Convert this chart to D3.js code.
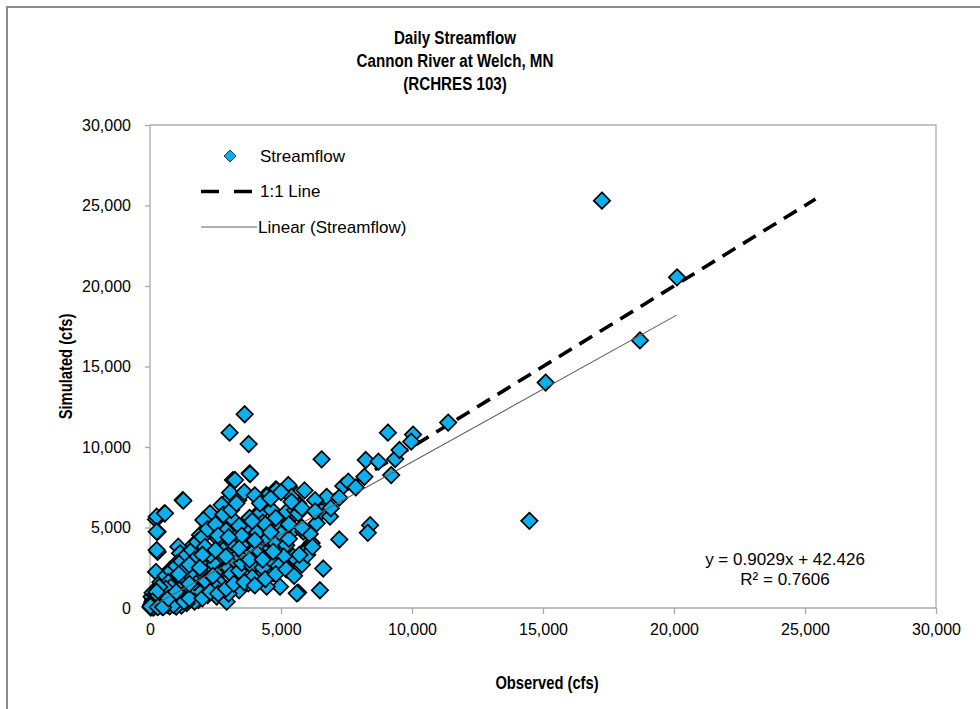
<!DOCTYPE html>
<html><head><meta charset="utf-8">
<script src="https://cdn.jsdelivr.net/npm/d3@7"></script>
<style>
html,body{margin:0;padding:0;background:#fff;}
svg{display:block;}
.bold{font-family:"Liberation Sans",Arial,sans-serif;font-weight:bold;}
.reg{font-family:"Liberation Sans",Arial,sans-serif;}
</style></head>
<body>
<svg id="chart" width="980" height="709"></svg>
<script>
const titleLines = ["Daily Streamflow", "Cannon River at Welch, MN", "(RCHRES 103)"];
const xTicks = [0, 5000, 10000, 15000, 20000, 25000, 30000];
const yTicks = [0, 5000, 10000, 15000, 20000, 25000, 30000];
const seriesNames = ["Streamflow", "1:1 Line", "Linear (Streamflow)"];
const slope = 0.9029, intercept = 42.426, r2 = 0.7606;
const oneToOne = [0, 25400];
const trendRange = [0, 20100];

// Observed (cfs)
const observed = [
 17250, 20115, 18700, 15100, 14480, 11380, 10040, 9970, 9080,
 3613, 3038, 3766, 3804, 3165, 6551, 8236, 8720, 9359, 9524, 8183, 9206, 7379, 7570, 7853,
 6486, 6742, 7225, 8401, 8313, 7225, 6613, 6486, 5655, 1249, 548, 230, 291, 291, 230,
 5310, 4800, 4444, 3038, 5655, 5528, 4122, 4888, 6168, 5846, 5463,
 1272, 255, 573, 255, 255, 1081, 3245, 3817, 3054, 3371, 2736, 2290, 2036, 2736, 3181,
 3054, 2608, 1909, 1653, 2099, 1527, 1145, 1018, 763, 1272, 1653, 2354, 2799, 3435, 3690,
 4008, 4199, 4453, 4835, 5280, 4644, 5216, 5535, 4962, 5407, 4580, 4072, 3435, 3817, 3308,
 2863, 4453, 4962, 5470, 5280, 4707, 4199, 4962, 4453, 3752, 3371, 2863, 2416, 2099, 1653,
 1844, 2546, 2927, 1145, 1018, 763, 1527, 2099, 2481, 5599,
 6551, 6871, 6360, 5850, 5655, 5599, 5980,
 50, 100, 150, 200, 250, 300, 80, 120, 180, 350, 400, 450, 500, 550, 600, 650, 700, 750, 800,
 850, 900, 950, 1000, 60, 100, 200, 300, 400, 500, 600, 700, 800, 900, 1000, 1100, 1200, 1300,
 1400, 1500, 1200, 30, 120, 250, 350, 450, 550, 650, 750, 850, 1100, 1300, 1600, 1800, 1700,
 1900, 2100, 2300, 2500, 2600, 2200, 2000, 1900, 2400, 2700, 2800, 3000, 3200, 3100, 3400,
 3500, 3300, 3600, 3800, 4000, 3900, 4200, 4400, 4600, 4300, 3700, 3500, 3000, 2800, 2600,
 2400, 2300, 2700, 3100, 3300, 2900, 3600, 4100, 4500, 4800, 5000, 5200, 5100, 4700, 4900,
 4300, 3900, 3400, 3000, 2500, 2200, 1700, 1400, 1200, 1000,
 6900, 6300, 5900, 5400, 6100, 4300, 3800, 2600, 1900, 1500, 650, 380, 150,
 400, 600, 800, 1000, 1200, 1400, 1600, 1800, 2000, 2200, 2500, 2800, 3100, 3300, 3600, 4000,
 4200, 4600, 5000, 5400, 5800, 4800, 4400, 3900, 3400, 2600, 2100, 1700, 1300, 900, 700, 500,
 300, 200, 150, 450, 650, 900, 1300, 1500, 2000, 2300, 2600, 2900, 3200, 3600, 4000, 4400,
 4800, 5200, 5500, 5800, 6000, 6200, 5700, 5300, 4600, 4000, 3500, 3000, 2500, 2000, 1500,
 1100, 800, 600, 350, 250, 100, 50, 20, 300, 500, 700, 1000, 1500, 1900, 2400, 2900, 3400,
 3800, 4300, 4700, 5300, 5800, 6300
];
// Simulated (cfs)
const simulated = [
 25300, 20540, 16620, 14000, 5415, 11515, 10770, 10330, 10890,
 12035, 10890, 10187, 8364, 7947, 9235, 9191, 9086, 9254, 9814, 8152, 8258, 7577, 7845, 7492,
 6285, 6907, 6851, 5146, 4667, 4256, 2452, 1101, 958, 6702, 5874, 5501, 4730, 3485, 2240,
 7534, 7368, 7013, 6807, 6497, 5874, 5874, 5663, 4045, 3485, 3074,
 6664, 5670, 5880, 4740, 3600, 3807, 7950, 8323, 7161, 6708, 6397, 5880, 5465, 5465, 5465,
 4638, 4328, 4534, 3913, 3397, 3186, 3397, 2776, 2360, 2360, 2565, 3087, 3497, 4428, 4845,
 5050, 5880, 6913, 7329, 7640, 6087, 5981, 6087, 4950, 4740, 4223, 3807, 3497, 2776, 2360,
 2565, 2981, 3397, 3186, 2360, 2155, 1944, 1323, 1323, 1534, 1845, 1224, 1739, 1429, 1323,
 497, 702, 391, 913, 1534, 391, 1944, 2360, 2360, 913,
 5998, 5680, 5260, 4740, 5880, 6500, 3600,
 80, 150, 60, 250, 120, 350, 300, 500, 420, 200, 500, 300, 650, 420, 800, 550, 300, 900, 650,
 450, 1000, 750, 500, 700, 950, 800, 1100, 900, 1200, 1400, 1150, 1500, 1300, 1700, 1100, 900, 1500,
 1800, 1200, 2000, 30, 20, 600, 700, 1050, 150, 1100, 100, 1150, 300, 600, 800, 1100, 1600,
 1900, 1700, 2100, 1900, 2400, 2600, 2900, 2300, 1200, 1500, 2700, 2500, 3000, 2100, 2300,
 2800, 3400, 3300, 3600, 3200, 2600, 3500, 3900, 3700, 4400, 4100, 3900, 3700, 3300, 3000,
 2800, 3300, 3800, 4100, 4600, 4800, 4900, 4700, 4300, 4000, 4600, 3900, 3200, 2800, 2600,
 2500, 1900, 1100, 900, 1300, 800, 400, 300, 150, 80,
 6200, 6700, 7300, 6900, 4600, 5300, 5600, 4300, 2800, 2100, 1600, 900, 250,
 1600, 2000, 2300, 2600, 2900, 3300, 3600, 4100, 4400, 4900, 5200, 5800, 6100, 6500, 7200, 7000,
 6500, 6800, 7200, 6600, 6200, 5600, 5200, 5400, 5100, 4500, 3800, 3000, 2400, 1800, 1600, 1000,
 800, 500, 300, 100, 200, 200, 400, 600, 600, 1000, 900, 1200, 1500, 1600, 1400, 1800,
 2100, 2400, 2000, 2700, 3300, 3800, 3300, 4300, 4700, 4200, 4500, 4400, 3600, 3300, 2700,
 2100, 1300, 1200, 1300, 1000, 400, 200, 100, 50, 50, 600, 1000, 1500, 2500, 2000, 3200, 3700,
 3000, 3000, 3500, 5200, 5000, 6000
];

const svg = d3.select("#chart");
const L = 150, R = 936, T = 125, B = 608;
const x = d3.scaleLinear().domain([0, 30000]).range([L, R]);
const y = d3.scaleLinear().domain([0, 30000]).range([B, T]);
const fmt = d3.format(",");
const NARROW = 0.82;

// outer chart frame
svg.append("rect").attr("x", 7).attr("y", 7).attr("width", 1100).attr("height", 1100)
  .attr("fill", "none").attr("stroke", "#8c8c8c").attr("stroke-width", 2);

// title (condensed bold)
const title = svg.append("g").attr("transform", `translate(455,0) scale(${NARROW},1)`)
  .append("text").attr("class", "bold").attr("text-anchor", "middle")
  .attr("font-size", 18.5).attr("fill", "#000");
titleLines.forEach((t, i) => {
  title.append("tspan").attr("x", 0).attr("y", 44 + i * 23).text(t);
});

// plot area border (top & right)
svg.append("path").attr("d", `M${L},${T}H${R}V${B}`).attr("fill", "none")
  .attr("stroke", "#b0b0b0").attr("stroke-width", 1.3);

// axes
const xAxis = d3.axisBottom(x).tickValues(xTicks).tickFormat(fmt).tickSize(6).tickPadding(10);
const yAxis = d3.axisLeft(y).tickValues(yTicks).tickFormat(fmt).tickSize(5).tickPadding(14);
const gx = svg.append("g").attr("transform", `translate(0,${B})`).call(xAxis);
const gy = svg.append("g").attr("transform", `translate(${L},0)`).call(yAxis);
[gx, gy].forEach(g => {
  g.select(".domain").attr("stroke", "#a8a8a8").attr("stroke-width", 1.3);
  g.selectAll(".tick line").attr("stroke", "#a8a8a8").attr("stroke-width", 1.3);
  g.selectAll(".tick text").attr("class", "reg").attr("font-size", 16).attr("fill", "#000");
});
gy.select(".domain").attr("d", `M0,${B}V${T}`);
gx.select(".domain").attr("d", `M${L},0H${R}`);

// 1:1 line
svg.append("line")
  .attr("x1", x(oneToOne[0])).attr("y1", y(oneToOne[0]))
  .attr("x2", x(oneToOne[1])).attr("y2", y(oneToOne[1]))
  .attr("stroke", "#000").attr("stroke-width", 3.6).attr("stroke-dasharray", "15,9");

// points
const diamond = r => `M0,${-r}L${r},0L0,${r}L${-r},0Z`;
const pts = observed.map((o, i) => [o, simulated[i]]);
svg.append("g").selectAll("path").data(pts).join("path")
  .attr("d", diamond(8.2))
  .attr("transform", d => `translate(${x(d[0])},${y(d[1])})`)
  .attr("fill", "#0cb0ec").attr("stroke", "#000").attr("stroke-width", 1.7)
  .attr("stroke-linejoin", "miter");

// trendline
svg.append("line")
  .attr("x1", x(trendRange[0])).attr("y1", y(slope * trendRange[0] + intercept))
  .attr("x2", x(trendRange[1])).attr("y2", y(slope * trendRange[1] + intercept))
  .attr("stroke", "#606060").attr("stroke-width", 1.1);

// legend
const lg = svg.append("g");
lg.append("path").attr("d", diamond(6)).attr("transform", "translate(230,156)")
  .attr("fill", "#0cb0ec").attr("stroke", "#1a3a4a").attr("stroke-width", 1);
lg.append("line").attr("x1", 201).attr("x2", 252).attr("y1", 191.5).attr("y2", 191.5)
  .attr("stroke", "#000").attr("stroke-width", 3.6).attr("stroke-dasharray", "18,15");
lg.append("line").attr("x1", 201).attr("x2", 257).attr("y1", 227).attr("y2", 227)
  .attr("stroke", "#606060").attr("stroke-width", 1.1);
[[260, 156], [260, 191.5], [258, 227]].forEach((p, i) => {
  lg.append("text").attr("class", "reg").attr("x", p[0]).attr("y", p[1])
    .attr("dy", "0.35em").attr("font-size", 17).attr("fill", "#000").text(seriesNames[i]);
});

// equation
svg.append("text").attr("class", "reg").attr("x", 785).attr("y", 565)
  .attr("text-anchor", "middle").attr("font-size", 17)
  .text(`y = ${slope}x + ${intercept}`);
svg.append("text").attr("class", "reg").attr("x", 785).attr("y", 585)
  .attr("text-anchor", "middle").attr("font-size", 17)
  .text(`R² = ${r2}`);

// axis titles (condensed bold)
svg.append("g").attr("transform", `translate(66,${(T + B) / 2}) rotate(-90) scale(${NARROW},1)`)
  .append("text").attr("class", "bold").attr("font-size", 18).attr("text-anchor", "middle")
  .attr("dy", "0.35em").text("Simulated (cfs)");
svg.append("g").attr("transform", `translate(${(L + R) / 2 + 4},689) scale(${NARROW},1)`)
  .append("text").attr("class", "bold").attr("font-size", 18).attr("text-anchor", "middle")
  .text("Observed (cfs)");
</script>
</body></html>
